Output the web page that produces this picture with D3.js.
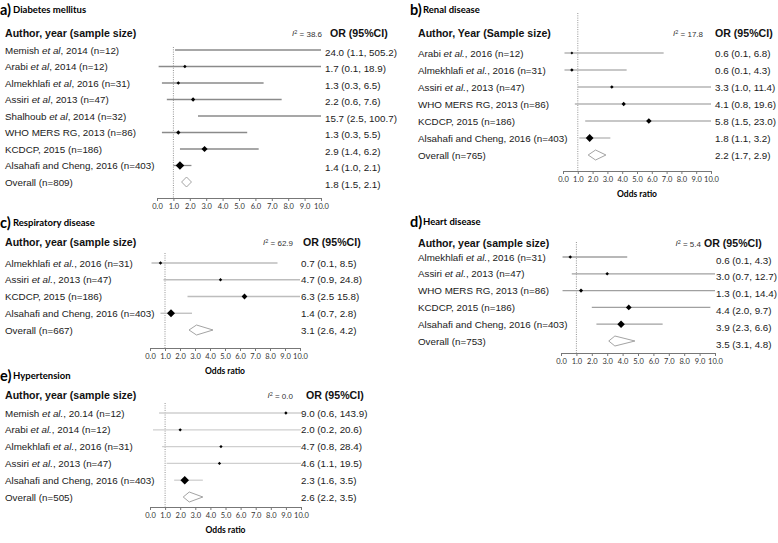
<!DOCTYPE html>
<html>
<head>
<meta charset="utf-8">
<script src="https://cdn.jsdelivr.net/npm/d3@7"></script>
<style>
  body { margin: 0; background: #fff; }
  svg { display: block; }
</style>
</head>
<body>
<div id="chart"></div>
<script>
// a) Diabetes mellitus
const dmStudies = ["Memish et al, 2014 (n=12)", "Arabi et al, 2014 (n=12)", "Almekhlafi et al, 2016 (n=31)", "Assiri et al, 2013 (n=47)", "Shalhoub et al, 2014 (n=32)", "WHO MERS RG, 2013 (n=86)", "KCDCP, 2015 (n=186)", "Alsahafi and Cheng, 2016 (n=403)", "Overall (n=809)"];
const dmOR = [24.0, 1.7, 1.3, 2.2, 15.7, 1.3, 2.9, 1.4, 1.8];
const dmLow = [1.1, 0.1, 0.3, 0.6, 2.5, 0.3, 1.4, 1.0, 1.5];
const dmHigh = [505.2, 18.9, 6.5, 7.6, 100.7, 5.5, 6.2, 2.1, 2.1];
const dmWeight = [1, 1, 1, 4, 1, 4, 20, 60];
const dmCI = ["24.0 (1.1, 505.2)", "1.7 (0.1, 18.9)", "1.3 (0.3, 6.5)", "2.2 (0.6, 7.6)", "15.7 (2.5, 100.7)", "1.3 (0.3, 5.5)", "2.9 (1.4, 6.2)", "1.4 (1.0, 2.1)", "1.8 (1.5, 2.1)"];

// b) Renal disease
const rdStudies = ["Arabi et al., 2016 (n=12)", "Almekhlafi et al., 2016 (n=31)", "Assiri et al., 2013 (n=47)", "WHO MERS RG, 2013 (n=86)", "KCDCP, 2015 (n=186)", "Alsahafi and Cheng, 2016 (n=403)", "Overall (n=765)"];
const rdOR = [0.6, 0.6, 3.3, 4.1, 5.8, 1.8, 2.2];
const rdLow = [0.1, 0.1, 1.0, 0.8, 1.5, 1.1, 1.7];
const rdHigh = [6.8, 4.3, 11.4, 19.6, 23.0, 3.2, 2.9];
const rdWeight = [0, 1, 1, 4, 14, 45];
const rdCI = ["0.6 (0.1, 6.8)", "0.6 (0.1, 4.3)", "3.3 (1.0, 11.4)", "4.1 (0.8, 19.6)", "5.8 (1.5, 23.0)", "1.8 (1.1, 3.2)", "2.2 (1.7, 2.9)"];

// c) Respiratory disease
const rsStudies = ["Almekhlafi et al., 2016 (n=31)", "Assiri et al., 2013 (n=47)", "KCDCP, 2015 (n=186)", "Alsahafi and Cheng, 2016 (n=403)", "Overall (n=667)"];
const rsOR = [0.7, 4.7, 6.3, 1.4, 3.1];
const rsLow = [0.1, 0.9, 2.5, 0.7, 2.6];
const rsHigh = [8.5, 24.8, 15.8, 2.8, 4.2];
const rsWeight = [1, 0.5, 16, 50];
const rsCI = ["0.7 (0.1, 8.5)", "4.7 (0.9, 24.8)", "6.3 (2.5 15.8)", "1.4 (0.7, 2.8)", "3.1 (2.6, 4.2)"];

// d) Heart disease
const hdStudies = ["Almekhlafi et al., 2016 (n=31)", "Assiri et al., 2013 (n=47)", "WHO MERS RG, 2013 (n=86)", "KCDCP, 2015 (n=186)", "Alsahafi and Cheng, 2016 (n=403)", "Overall  (n=753)"];
const hdOR = [0.6, 3.0, 1.3, 4.4, 3.9, 3.5];
const hdLow = [0.1, 0.7, 0.1, 2.0, 2.3, 3.1];
const hdHigh = [4.3, 12.7, 14.4, 9.7, 6.6, 4.8];
const hdWeight = [1, 1, 3, 16, 40];
const hdCI = ["0.6 (0.1, 4.3)", "3.0 (0.7, 12.7)", "1.3 (0.1, 14.4)", "4.4 (2.0, 9.7)", "3.9 (2.3, 6.6)", "3.5 (3.1, 4.8)"];

// e) Hypertension
const htStudies = ["Memish et al., 20.14 (n=12)", "Arabi et al., 2014 (n=12)", "Almekhlafi et al., 2016 (n=31)", "Assiri et al., 2013 (n=47)", "Alsahafi and Cheng, 2016 (n=403)", "Overall (n=505)"];
const htOR = [9.0, 2.0, 4.7, 4.6, 2.3, 2.6];
const htLow = [0.6, 0.2, 0.8, 1.1, 1.6, 2.2];
const htHigh = [143.9, 20.6, 28.4, 19.5, 3.5, 3.5];
const htWeight = [0.5, 0.5, 0.5, 0.5, 60];
const htCI = ["9.0 (0.6, 143.9)", "2.0 (0.2, 20.6)", "4.7 (0.8, 28.4)", "4.6 (1.1, 19.5)", "2.3 (1.6, 3.5)", "2.6 (2.2, 3.5)"];

const i2Values = ["38.6", "17.8", "62.9", "5.4", "0.0"];
const panelLetters = ["a)", "b)", "c)", "d)", "e)"];
const panelTitles = ["Diabetes mellitus", "Renal disease", "Respiratory disease", "Heart disease", "Hypertension"];
const headers = ["Author, year (sample size)", "Author, Year (Sample size)", "Author, year (sample size)", "Author, year (sample size)", "Author, year (sample size)"];
const xTicks = d3.range(0, 11);

const width = 778, height = 543;
const svg = d3.select('#chart').append('svg')
  .attr('width', width).attr('height', height)
  .style('font-family', '"Liberation Sans", Arial, sans-serif');

const sizeScale = d3.scaleSqrt().domain([0, 70]).range([1.4, 4.5]).clamp(true);

// layout of each panel
const panels = [
  { studies: dmStudies, or: dmOR, low: dmLow, high: dmHigh, w: dmWeight, ci: dmCI,
    left: 0, top: 8, textX: 5, headY: 33, rows: [50, 182], dotTop: 47, axisY: 198, xr: [157, 321],
    i2X: 322, orX: 330, ciX: 325, ciDy: 2, lineCol: '#8a8a8a', oddsLabel: false },
  { studies: rdStudies, or: rdOR, low: rdLow, high: rdHigh, w: rdWeight, ci: rdCI,
    left: 410, top: 8, textX: 418, headY: 33, rows: [53, 155], dotTop: 13, axisY: 171, xr: [563, 711],
    i2X: 703, orX: 715, ciX: 715, ciDy: 0, lineCol: '#b4b4b4', oddsLabel: true },
  { studies: rsStudies, or: rsOR, low: rsLow, high: rsHigh, w: rsWeight, ci: rsCI,
    left: 0, top: 221, textX: 5, headY: 242, rows: [263, 330], dotTop: 253, axisY: 348, xr: [150, 300],
    i2X: 293, orX: 303, ciX: 301, ciDy: 0, lineCol: '#bdbdbd', oddsLabel: true },
  { studies: hdStudies, or: hdOR, low: hdLow, high: hdHigh, w: hdWeight, ci: hdCI,
    left: 410, top: 220, textX: 418, headY: 243, rows: [257, 341], dotTop: 242, axisY: 353, xr: [561, 715],
    i2X: 701, orX: 704, ciX: 716, ciDy: 3, lineCol: '#a0a0a0', oddsLabel: false },
  { studies: htStudies, or: htOR, low: htLow, high: htHigh, w: htWeight, ci: htCI,
    left: 0, top: 374, textX: 5, headY: 395, rows: [413, 497], dotTop: 403, axisY: 507, xr: [150, 301],
    i2X: 293, orX: 306, ciX: 301, ciDy: 0, lineCol: '#cfcfcf', oddsLabel: true }
];

function richLabel(sel, str) {
  str.split(/(et al\.?)/).forEach(p => {
    if (!p) return;
    sel.append('tspan').text(p).style('font-style', /^et al/.test(p) ? 'italic' : 'normal');
  });
}

panels.forEach((p, k) => {
  const g = svg.append('g');
  const x = d3.scaleLinear().domain([0, 10]).range(p.xr);
  const y = d3.scalePoint().domain(d3.range(p.studies.length)).range(p.rows);
  const last = p.studies.length - 1;

  // panel letter + title
  g.append('text').attr('x', p.left).attr('y', p.top + 6.5)
    .style('font-family', 'Lato, sans-serif').style('font-weight', 700).style('font-size', '14.5px')
    .text(panelLetters[k]);
  g.append('text').attr('x', p.left + 13).attr('y', p.top + 4.5)
    .style('font-family', 'Lato, sans-serif').style('font-weight', 700).style('font-size', '9.5px')
    .text(panelTitles[k]);

  // headers
  g.append('text').attr('x', p.textX).attr('y', p.headY).attr('dy', '0.36em')
    .style('font-weight', 700).style('font-size', '10.6px').attr('fill', '#111')
    .text(headers[k]);
  g.append('text').attr('x', p.orX).attr('y', p.headY).attr('dy', '0.36em')
    .style('font-weight', 700).style('font-size', '10.6px').attr('fill', '#111')
    .text('OR (95%CI)');
  const i2 = g.append('text').attr('x', p.i2X).attr('y', p.headY).attr('dy', '0.36em')
    .attr('text-anchor', 'end').style('font-size', '8px').attr('fill', '#333');
  i2.append('tspan').text('I').style('font-style', 'italic');
  i2.append('tspan').text('2').attr('dy', '-0.4em').style('font-size', '5.5px');
  i2.append('tspan').text(' = ' + i2Values[k]).attr('dy', '0.4em');

  // null line
  g.append('line').attr('x1', x(1)).attr('x2', x(1)).attr('y1', p.dotTop).attr('y2', p.axisY)
    .attr('stroke', '#777').attr('stroke-width', 0.8).attr('stroke-dasharray', '1,1.3');

  // study labels
  p.studies.forEach((s, i) => {
    const t = g.append('text').attr('x', p.textX).attr('y', y(i)).attr('dy', '0.36em')
      .style('font-size', '9.8px').attr('fill', '#1a1a1a');
    richLabel(t, s);
    g.append('text').attr('x', p.ciX).attr('y', y(i) + p.ciDy).attr('dy', '0.36em')
      .style('font-size', '9.8px').attr('fill', '#1a1a1a').text(p.ci[i]);
  });

  // confidence intervals
  const idx = d3.range(last);
  g.selectAll('line.ci').data(idx).join('line').attr('class', 'ci')
    .attr('x1', i => x(Math.max(0, p.low[i]))).attr('x2', i => x(Math.min(10, p.high[i])))
    .attr('y1', i => y(i)).attr('y2', i => y(i))
    .attr('stroke', p.lineCol).attr('stroke-width', 1.3);

  // point estimates (diamond markers sized by weight)
  g.selectAll('path.pt').data(idx.filter(i => p.or[i] <= 10)).join('path').attr('class', 'pt')
    .attr('d', i => d3.symbol(d3.symbolSquare, 2 * sizeScale(p.w[i]) ** 2)())
    .attr('transform', i => `translate(${x(p.or[i])},${y(i)}) rotate(45)`)
    .attr('fill', '#000');

  // overall diamond
  const yo = y(last), h = 5;
  g.append('path')
    .attr('d', `M${x(p.low[last])},${yo}L${x(p.or[last])},${yo - h}L${x(p.high[last])},${yo}L${x(p.or[last])},${yo + h}Z`)
    .attr('fill', '#fff').attr('stroke', '#999').attr('stroke-width', 0.9);

  // axis
  const ax = g.append('g').attr('transform', `translate(0,${p.axisY})`)
    .call(d3.axisBottom(x).tickValues(xTicks).tickFormat(d3.format('.1f')).tickSize(3).tickPadding(3).tickSizeOuter(0));
  ax.select('.domain').attr('stroke', '#777');
  ax.selectAll('.tick line').attr('stroke', '#777');
  ax.selectAll('.tick text').style('font-family', 'Lato, sans-serif').style('font-size', '7.5px').attr('fill', '#333');

  if (p.oddsLabel) {
    g.append('text').attr('x', (p.xr[0] + p.xr[1]) / 2).attr('y', p.axisY + 23).attr('dy', '0.36em')
      .attr('text-anchor', 'middle')
      .style('font-family', 'Lato, sans-serif').style('font-weight', 700).style('font-size', '8.5px')
      .text('Odds ratio');
  }
});
</script>
</body>
</html>
